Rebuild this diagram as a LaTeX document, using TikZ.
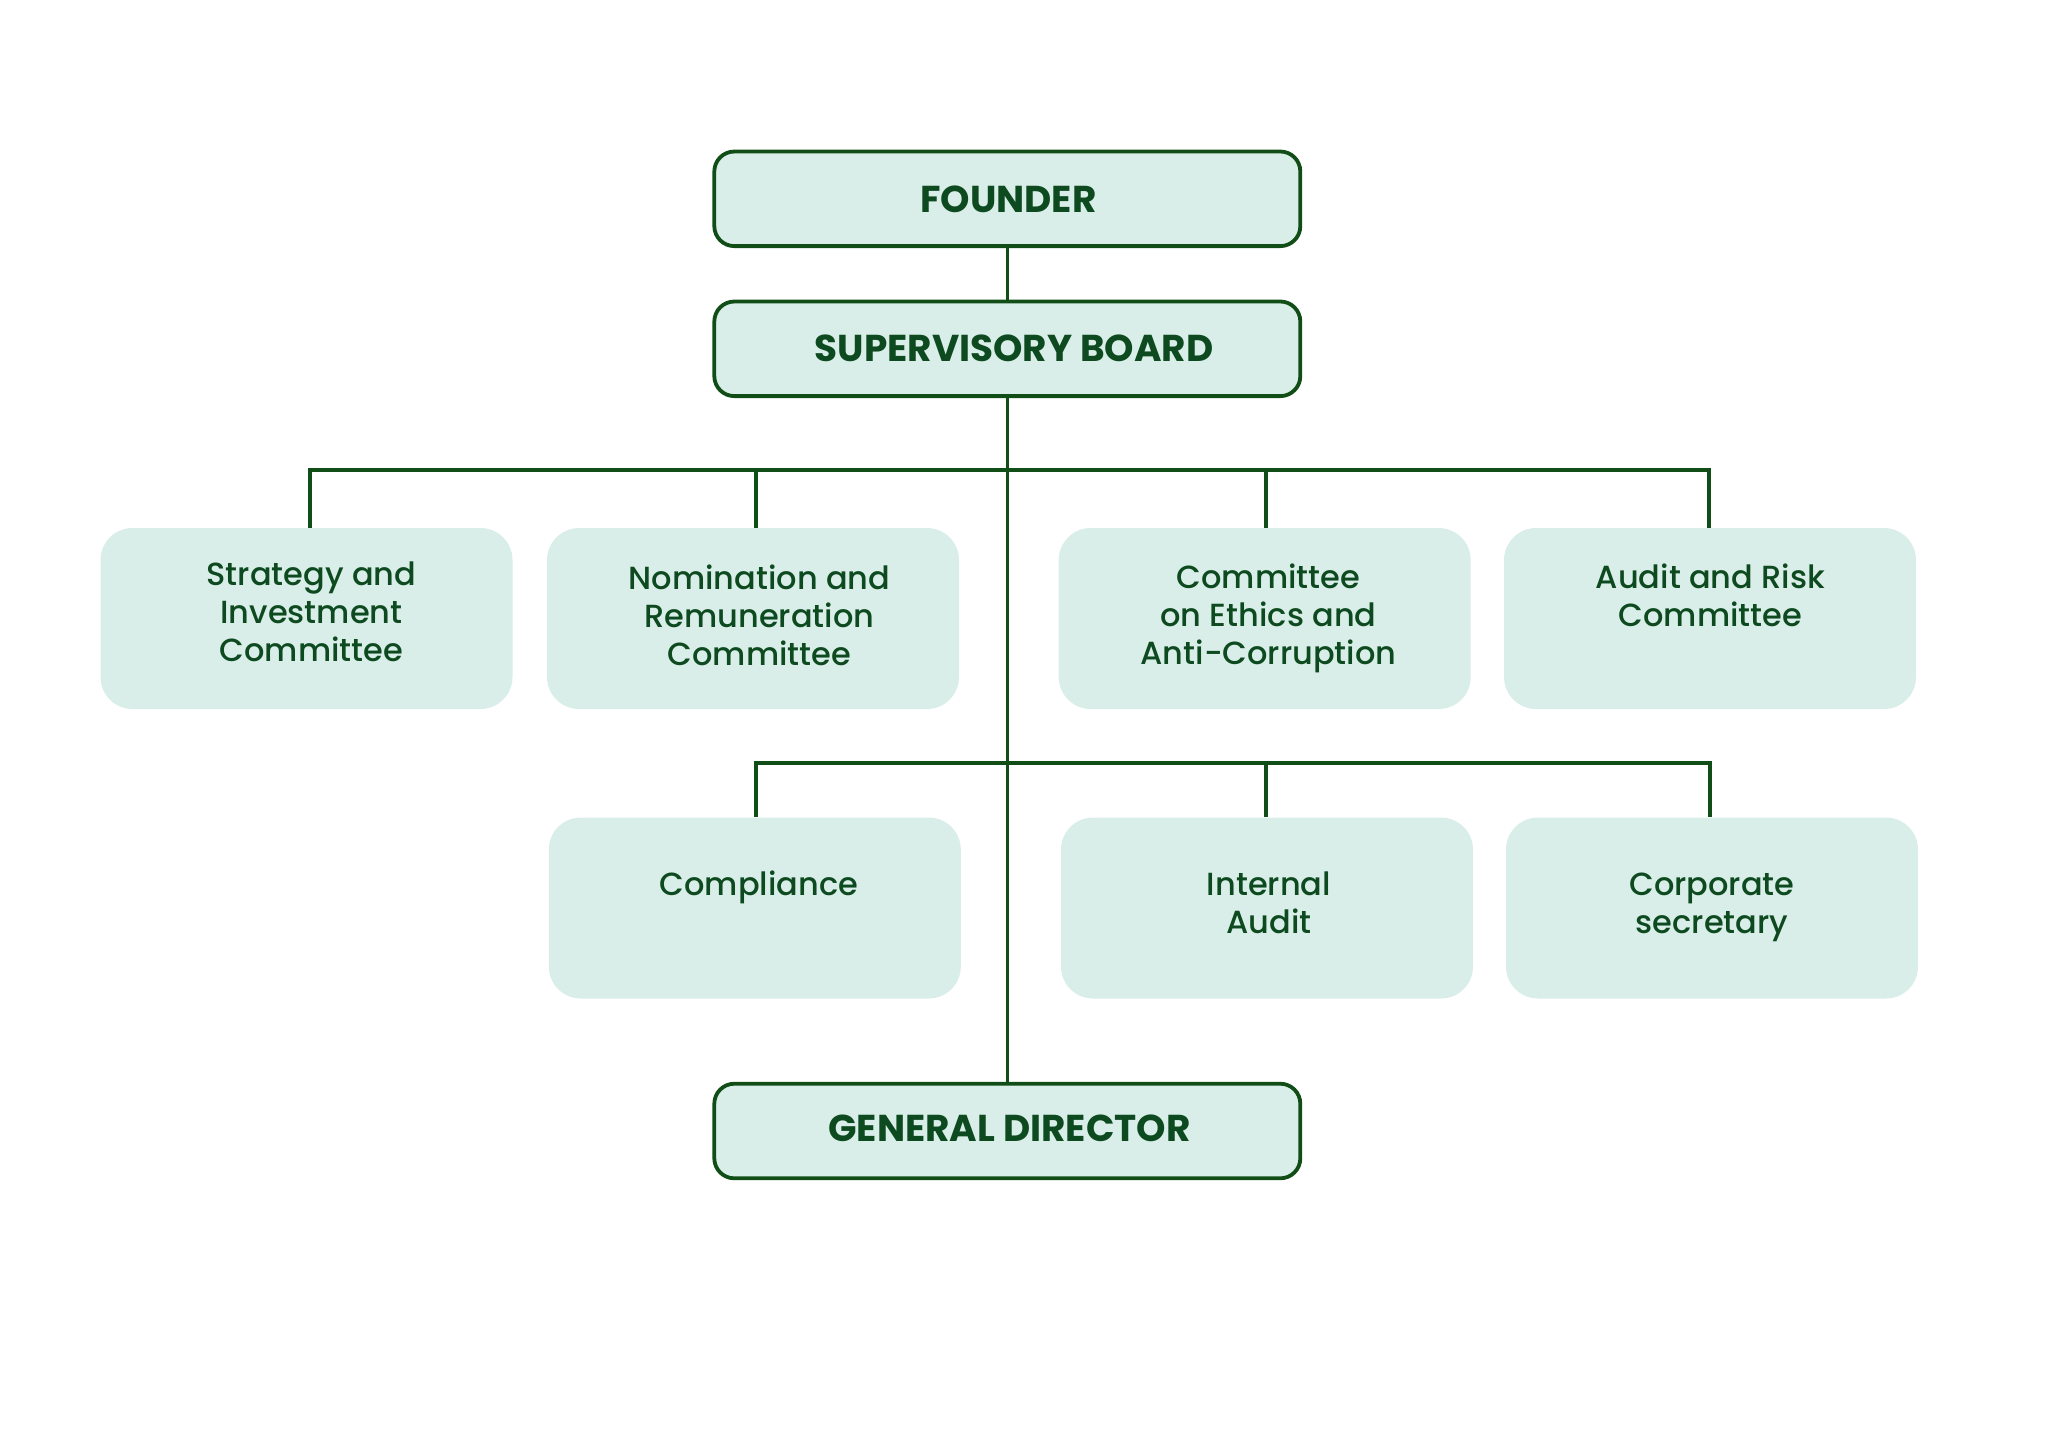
\documentclass[tikz,border=0pt]{standalone}
\usepackage{fontspec}
\setmainfont{Poppins}
\newfontfamily\medf{Poppins Medium}
\newfontfamily\boldf{Poppins Bold}
\definecolor{linegreen}{HTML}{114D16}
\definecolor{textgreen}{HTML}{0E4A20}
\definecolor{boxfill}{HTML}{D9EEE8}
\setlength{\tabcolsep}{0pt}
\begin{document}
\begin{tikzpicture}[x=0.5pt,y=-0.5pt,
  tbox/.style={draw=linegreen, line width=1.9pt, fill=boxfill, rounded corners=10pt,
    minimum width=293pt, minimum height=47.3pt, inner sep=0pt},
  rbox/.style={fill=boxfill, rounded corners=16pt, minimum width=206pt,
    minimum height=90.5pt, inner sep=0pt},
  ttext/.style={anchor=base, inner sep=0pt, text=textgreen, font=\boldf\fontsize{18.7}{21}\selectfont},
  btext/.style={anchor=base, inner sep=0pt, text=textgreen, font=\medf\fontsize{16}{19}\selectfont},
  conn/.style={draw=linegreen, line width=1.6pt, line join=miter}]
\useasboundingbox (0,0) rectangle (2048,1448);
% title boxes
\node[tbox] (founder) at (1007.3,198.8) {};
\node[tbox] (sb) at (1007.3,348.8) {};
\node[tbox] (gd) at (1007.3,1131) {};
% row 1
\node[rbox] (strat) at (306.5,618.5) {};
\node[rbox] (nom) at (753,618.5) {};
\node[rbox] (eth) at (1264.7,618.5) {};
\node[rbox] (aud) at (1710,618.5) {};
% row 2
\node[rbox] (comp) at (754.8,908) {};
\node[rbox] (int) at (1267,908) {};
\node[rbox] (corp) at (1712,908) {};
% bus coordinates
\coordinate (a1) at (310,470);
\coordinate (a2) at (756,470);
\coordinate (a3) at (1266,470);
\coordinate (a4) at (1709,470);
\coordinate (c1) at (756,763);
\coordinate (c2) at (1266,763);
\coordinate (c3) at (1710,763);
% connectors
\draw[conn] (founder.south) -- (sb.north);
\draw[conn] (sb.south) -- (gd.north);
\draw[conn] (a1 |- strat.north) -- (a1) -- (a4) -- (a4 |- aud.north);
\draw[conn] (a2) -- (a2 |- nom.north);
\draw[conn] (a3) -- (a3 |- eth.north);
\draw[conn] (c1 |- comp.north) -- (c1) -- (c3) -- (c3 |- corp.north);
\draw[conn] (c2) -- (c2 |- int.north);
% texts
\node[ttext] (tfounder) at (1008.5,212.5) {FOUNDER};
\node[ttext] (tsb) at (1014,361.5) {SUPERVISORY BOARD};
\node[ttext] (tgd) at (1009.5,1141.5) {GENERAL DIRECTOR};
\node[btext] (tstrat) at (311.5,585) {\begin{tabular}[t]{c}Strategy and\\Investment\\Committee\end{tabular}};
\node[btext] (tnom) at (759.5,589) {\begin{tabular}[t]{c}Nomination and\\Remuneration\\Committee\end{tabular}};
\node[btext] (teth) at (1268.5,588.5) {\begin{tabular}[t]{c}Committee\\on Ethics and\\Anti-Corruption\end{tabular}};
\node[btext] (taud) at (1710.5,588.5) {\begin{tabular}[t]{c}Audit and Risk\\Committee\end{tabular}};
\node[btext] (tcomp) at (759,895) {\begin{tabular}[t]{c}Compliance\end{tabular}};
\node[btext] (tint) at (1269,895) {\begin{tabular}[t]{c}Internal\\Audit\end{tabular}};
\node[btext] (tcorp) at (1712,895) {\begin{tabular}[t]{c}Corporate\\secretary\end{tabular}};
\end{tikzpicture}
\end{document}
